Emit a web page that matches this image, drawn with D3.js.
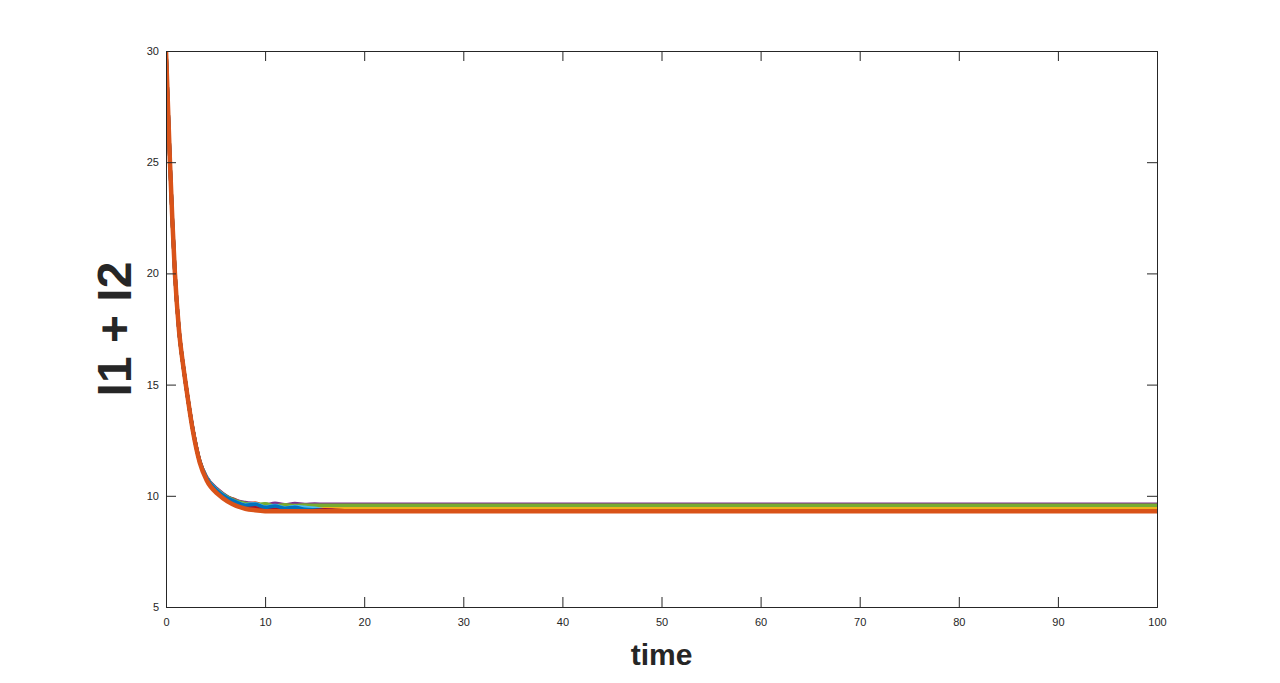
<!DOCTYPE html>
<html lang="en">
  <head>
    <meta charset="utf-8">
    <title>I1 + I2 over time</title>
    <style>
      body { margin: 0; background: #fff; }
      svg { display: block; font-family: "Liberation Sans", Arial, Helvetica, sans-serif; }
      .tick text { font-size: 11px; fill: #262626; }
      .tick line, .domain { stroke: #262626; }
    </style>
    <script src="https://cdn.jsdelivr.net/npm/d3@7"></script>
  </head>
  <body>
    <svg id="chart" width="1280" height="683"></svg>
    <script>
      // time points
      var times = [0, 0.2, 0.4, 0.65, 0.9, 1.3, 1.75, 2, 2.7, 3.4, 4.1, 5.3, 6.2, 7.1, 8, 9, 10, 11, 12, 13, 14, 15, 16, 18, 20, 100];

      // one row per run, drawn in this order (last one ends up on top)
      var runs = [
        [30, 27.5, 25, 22.3, 20, 17.5, 15.8, 15, 13.0, 11.56, 10.8, 10.2, 9.92, 9.74, 9.66, 9.56, 9.62, 9.5, 9.58, 9.48, 9.55, 9.5, 9.52, 9.5, 9.5, 9.5],
        [30, 27.5, 25, 22.3, 20, 17.5, 15.8, 15, 13.0, 11.56, 10.82, 10.24, 9.95, 9.8, 9.62, 9.68, 9.54, 9.6, 9.5, 9.56, 9.52, 9.53, 9.52, 9.52, 9.52, 9.52],
        [30, 27.5, 25, 22.3, 20, 17.5, 15.8, 15, 13.0, 11.55, 10.78, 10.16, 9.88, 9.68, 9.62, 9.5, 9.56, 9.44, 9.5, 9.42, 9.46, 9.43, 9.44, 9.44, 9.44, 9.44],
        [30, 27.5, 25, 22.3, 20, 17.5, 15.8, 15, 13.0, 11.57, 10.84, 10.26, 9.96, 9.78, 9.7, 9.64, 9.58, 9.66, 9.6, 9.65, 9.61, 9.63, 9.62, 9.62, 9.62, 9.62],
        [30, 27.5, 25, 22.3, 20, 17.5, 15.8, 15, 13.0, 11.56, 10.82, 10.22, 9.94, 9.76, 9.66, 9.6, 9.64, 9.55, 9.6, 9.56, 9.59, 9.57, 9.57, 9.57, 9.57, 9.57],
        [30, 27.5, 25, 22.3, 20, 17.5, 15.8, 15, 13.0, 11.56, 10.81, 10.2, 9.9, 9.72, 9.6, 9.64, 9.5, 9.56, 9.46, 9.52, 9.48, 9.44, 9.36, 9.32, 9.32, 9.32],
        [30, 27.5, 25, 22.3, 20, 17.5, 15.8, 15, 13.0, 11.54, 10.76, 10.12, 9.84, 9.66, 9.54, 9.46, 9.42, 9.4, 9.38, 9.38, 9.37, 9.37, 9.37, 9.33, 9.32, 9.32],
        [30, 27.5, 25, 22.3, 20, 17.5, 15.8, 15, 13.0, 11.55, 10.8, 10.18, 9.9, 9.72, 9.58, 9.62, 9.48, 9.54, 9.44, 9.48, 9.4, 9.36, 9.33, 9.32, 9.31, 9.31],
        [30, 27.5, 25, 22.3, 20, 17.5, 15.8, 15, 12.95, 11.5, 10.7, 10.05, 9.75, 9.55, 9.42, 9.35, 9.31, 9.3, 9.3, 9.3, 9.3, 9.3, 9.3, 9.3, 9.3, 9.3]
      ];

      var colors = ["#0072BD", "#D95319", "#EDB120", "#7E2F8E", "#77AC30", "#4DBEEE", "#A2142F"];
      var xTicks = [0, 10, 20, 30, 40, 50, 60, 70, 80, 90, 100];
      var yTicks = [5, 10, 15, 20, 25, 30];

      (function () {
        var x0 = 166, x1 = 1157, y0 = 51, y1 = 607;
        var svg = d3.select("#chart");

        var x = d3.scaleLinear().domain([0, 100]).range([x0, x1]);
        var y = d3.scaleLinear().domain([5, 30]).range([y1, y0]);

        svg.append("clipPath").attr("id", "plotclip")
          .append("rect").attr("x", x0).attr("y", y0)
          .attr("width", x1 - x0).attr("height", y1 - y0);

        var line = d3.line()
          .x(function(d, i) { return x(times[i]); })
          .y(function(d) { return y(d); })
          .curve(d3.curveMonotoneX);

        // the last run sits on top and hides the bundle, a bit wider so no edges peek through
        svg.append("g").attr("clip-path", "url(#plotclip)")
          .selectAll("path").data(runs).enter()
          .append("path")
          .attr("d", line)
          .attr("fill", "none")
          .attr("stroke", function(d, i) { return colors[i % colors.length]; })
          .attr("stroke-width", function(d, i) { return i === runs.length - 1 ? 4.5 : 3.5; })
          .attr("stroke-linejoin", "round");

        // box with inward ticks on all four sides, matlab style
        svg.append("g").attr("transform", "translate(0," + y1 + ")")
          .call(d3.axisBottom(x).tickValues(xTicks).tickSize(-10).tickPadding(11).tickFormat(d3.format("d")));
        svg.append("g").attr("transform", "translate(0," + y0 + ")")
          .call(d3.axisTop(x).tickValues(xTicks).tickSize(-10).tickFormat(""));
        svg.append("g").attr("transform", "translate(" + x0 + ",0)")
          .call(d3.axisLeft(y).tickValues(yTicks).tickSize(-10).tickPadding(7).tickFormat(d3.format("d")));
        svg.append("g").attr("transform", "translate(" + x1 + ",0)")
          .call(d3.axisRight(y).tickValues(yTicks).tickSize(-10).tickFormat(""));

        svg.selectAll(".domain").attr("stroke-width", 1);

        svg.append("text")
          .attr("x", (x0 + x1) / 2).attr("y", 665)
          .attr("text-anchor", "middle")
          .attr("font-size", 30).attr("font-weight", "bold").attr("fill", "#262626")
          .text("time");

        svg.append("text")
          .attr("transform", "translate(131," + (y0 + y1) / 2 + ") rotate(-90)")
          .attr("text-anchor", "middle")
          .attr("font-size", 48).attr("font-weight", "bold").attr("fill", "#262626")
          .text("I1 + I2");
      }());
    </script>
  </body>
</html>
